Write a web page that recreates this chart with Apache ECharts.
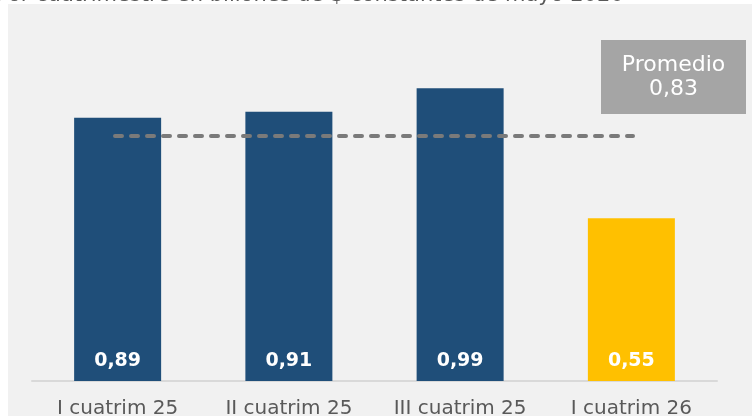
<!DOCTYPE html>
<html><head><meta charset="utf-8">
<script src="https://cdn.jsdelivr.net/npm/echarts@6/dist/echarts.min.js"></script>
<style>html,body{margin:0;padding:0;background:#fff;}#c{width:752px;height:416px;}</style>
</head><body><div id="c"></div>
<script>
const categories = ['I cuatrim 25', 'II cuatrim 25', 'III cuatrim 25', 'I cuatrim 26'];
const values = [0.89, 0.91, 0.99, 0.55];
const barColors = ['#1f4e79', '#1f4e79', '#1f4e79', '#ffc000'];
const average = 0.83;
const subtitle = 'Por cuatrimestre en billones de $ constantes de mayo 2026';
const fmt = v => v.toFixed(2).replace('.', ',');
const FONT = '"DejaVu Sans"';

const chart = echarts.init(document.getElementById('c'), null, {renderer: 'canvas'});
chart.setOption({
  animation: false,
  backgroundColor: '#ffffff',
  graphic: [
    {type: 'rect', left: 8, top: 4, shape: {width: 744, height: 412}, style: {fill: '#f1f1f1'}, z: -10},
    {type: 'text', x: -4, y: -4.5, style: {text: subtitle, fill: '#595959', font: '21px ' + FONT, verticalAlign: 'middle'}, z: -5},
    {type: 'group', left: 601, top: 40, children: [
      {type: 'rect', shape: {width: 145, height: 74}, style: {fill: '#a5a5a5'}},
      {type: 'text', x: 72.5, y: 37, style: {text: 'Promedio\n' + fmt(average), fill: '#ffffff', font: '22px ' + FONT, align: 'center', verticalAlign: 'middle', lineHeight: 24}}
    ]}
  ],
  grid: {left: 32, right: 35, top: 26, bottom: 35, containLabel: false, outerBoundsMode: 'none'},
  xAxis: {
    type: 'category', data: categories,
    axisLine: {lineStyle: {color: '#d9d9d9', width: 2}},
    axisTick: {show: false},
    axisLabel: {interval: 0, color: '#595959', fontSize: 20, fontFamily: 'DejaVu Sans', margin: 18}
  },
  yAxis: {type: 'value', min: 0, max: 1.2, show: false, splitLine: {show: false}},
  series: [{
    type: 'bar',
    barWidth: 87,
    data: values.map((v, i) => ({value: v, itemStyle: {color: barColors[i]}})),
    label: {show: true, position: 'insideBottom', distance: 10, color: '#ffffff', fontSize: 19, fontWeight: 'bold', fontFamily: 'DejaVu Sans', formatter: p => fmt(p.value)},
    markLine: {
      symbol: 'none', silent: true,
      label: {show: false},
      lineStyle: {color: '#7a7a7a', width: 4, type: [7, 9], cap: 'round'},
      data: [[{coord: [categories[0], average], x: 115}, {coord: [categories[3], average], x: 633}]]
    }
  }]
});
</script></body></html>
